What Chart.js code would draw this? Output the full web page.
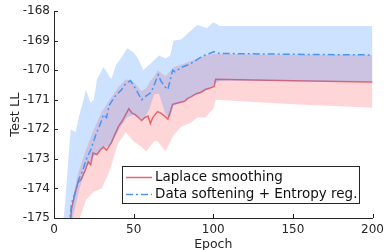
<!DOCTYPE html>
<html>
<head>
<meta charset="utf-8">
<script src="https://cdn.jsdelivr.net/npm/chart.js@4.4.0/dist/chart.umd.min.js"></script>
<style>
html, body { margin: 0; padding: 0; background: #fff; }
</style>
</head>
<body>
<canvas id="c" width="389" height="250"></canvas>
<script>
// values (test log-likelihood vs. epoch)
var laplaceEpochs = [10, 11, 13, 15, 17, 19.5, 21.5, 23, 24.5, 27, 29, 31, 33, 36, 38, 40.5, 43, 45, 47, 49, 51, 53, 55, 57, 59, 60.5, 62, 65, 67, 69.5, 71.5, 74.5, 78, 82, 84, 86, 89, 92, 95, 98, 100.5, 101.5, 150, 200];
var laplaceMean = [-175.3, -174.7, -174.2, -173.8, -173.7, -173.4, -173.1, -173.2, -172.8, -172.85, -172.7, -172.6, -172.7, -172.45, -172.2, -171.9, -171.7, -171.5, -171.3, -171.45, -171.5, -171.6, -171.7, -171.6, -171.55, -171.8, -171.6, -171.4, -171.45, -171.55, -171.65, -171.15, -171.1, -171.05, -170.95, -170.9, -170.8, -170.75, -170.65, -170.6, -170.55, -170.3, -170.35, -170.4];

var laplaceBandEpochs = [10, 13, 15, 20, 25, 30, 35, 40, 45, 50, 55, 58, 60, 63, 65, 70, 75, 80, 85, 90, 95, 100, 101.5, 150, 200];
var laplaceUpper = [-175.0, -174.0, -173.5, -172.7, -172.0, -171.4, -171.0, -170.6, -170.3, -170.4, -170.7, -170.6, -170.4, -170.2, -170.0, -170.2, -169.9, -169.8, -169.7, -169.6, -169.5, -169.45, -169.45, -169.47, -169.48];
var laplaceLower = [-176, -175.6, -175.2, -174.4, -174.1, -174.0, -173.4, -172.5, -172.1, -172.4, -172.6, -172.75, -172.6, -172.4, -172.4, -172.75, -172.2, -171.9, -171.8, -171.6, -171.6, -171.3, -171.0, -171.15, -171.27];

var softEpochs = [9.5, 11, 13, 15.5, 18, 20, 23, 26.5, 29.5, 31, 33, 34.5, 38, 42.5, 45, 48, 51, 55, 57, 61, 65.5, 67, 69.5, 71.5, 74.5, 76, 80, 85, 88, 91, 94, 97, 100.5, 104, 150, 200];
var softMean = [-175.3, -174.5, -174.2, -173.7, -173.4, -173.05, -172.7, -172.15, -171.75, -171.5, -171.6, -171.2, -170.9, -170.65, -170.45, -170.35, -170.6, -171.0, -170.9, -170.75, -170.15, -170.35, -170.55, -170.65, -170.0, -170.05, -169.9, -169.8, -169.7, -169.6, -169.5, -169.45, -169.37, -169.43, -169.46, -169.48];

var softBandEpochs = [5, 7, 9, 10.5, 13.5, 16, 18.5, 20, 23, 25, 27, 31, 33, 36, 39, 42, 46, 50, 53, 56, 60, 63, 66, 70, 73, 75, 80, 86, 90, 96, 100, 104, 150, 200];
var softUpper = [-175.5, -174.5, -173.0, -172.0, -172.1, -171.5, -171.0, -170.67, -171.1, -171.0, -170.3, -169.9, -170.05, -170.3, -169.8, -169.6, -169.25, -169.4, -169.63, -170.0, -169.8, -169.65, -169.5, -169.6, -169.5, -169.0, -168.95, -168.65, -168.47, -168.57, -168.37, -168.5, -168.5, -168.5];
var softLower = [-177, -176.5, -176.0, -175.3, -174.6, -174.0, -173.6, -173.3, -173.1, -172.9, -172.8, -172.6, -172.6, -172.5, -172.2, -171.9, -171.6, -171.5, -171.6, -171.7, -171.3, -170.8, -170.8, -171.5, -171.6, -171.2, -171.1, -170.9, -170.8, -170.65, -170.5, -170.35, -170.35, -170.38];

var seriesNames = ['Laplace smoothing', 'Data softening + Entropy reg.'];
var xTicks = [0, 50, 100, 150, 200];
var yTicks = [-175, -174, -173, -172, -171, -170, -169, -168];

var axisColor = '#262626';
var redLine = 'rgb(236,98,108)';
var blueLine = 'rgb(72,150,244)';
var redFill = 'rgba(255,50,60,0.2)';
var blueFill = 'rgba(40,130,255,0.235)';
var font = 'DejaVu Sans';

function pts(xs, ys) {
    return xs.map(function (x, i) { return { x: x, y: ys[i] }; });
}

function band(xs, ys, order, fill) {
    return {
        data: pts(xs, ys), order: order, borderWidth: 0, pointRadius: 0,
        backgroundColor: fill || 'transparent', fill: fill ? '-1' : false, clip: 0
    };
}

var decor = {
    id: 'decor',
    afterDraw: function (chart) {
        var ctx = chart.ctx, a = chart.chartArea;
        var xs = chart.scales.x, ys = chart.scales.y;
        ctx.save();
        // inward tick marks
        ctx.strokeStyle = axisColor;
        ctx.lineWidth = 1;
        ctx.beginPath();
        yTicks.forEach(function (v) {
            var p = Math.round(ys.getPixelForValue(v)) + 0.5;
            ctx.moveTo(a.left, p); ctx.lineTo(a.left + 4, p);
        });
        xTicks.forEach(function (v) {
            var p = Math.round(xs.getPixelForValue(v)) + 0.5;
            ctx.moveTo(p, a.bottom); ctx.lineTo(p, a.bottom - 4);
        });
        ctx.stroke();

        // boxed legend inside the axes
        var bx = 122.5, by = 166.5, bw = 237, bh = 37;
        ctx.fillStyle = '#fff';
        ctx.fillRect(bx, by, bw, bh);
        ctx.strokeRect(bx, by, bw, bh);
        var items = chart.data.datasets.filter(function (d) { return d.label; });
        items.forEach(function (d, i) {
            var y = 177.5 + i * 17;
            ctx.strokeStyle = d.borderColor;
            ctx.lineWidth = d.borderWidth;
            ctx.setLineDash(d.borderDash || []);
            ctx.beginPath();
            ctx.moveTo(126, y); ctx.lineTo(152, y);
            ctx.stroke();
            ctx.setLineDash([]);
            ctx.fillStyle = '#111';
            ctx.font = '13.5px "' + font + '"';
            ctx.textBaseline = 'middle';
            ctx.fillText(d.label, 155, y);
        });
        ctx.restore();
    }
};

new Chart(document.getElementById('c'), {
    type: 'line',
    data: {
        datasets: [
            band(laplaceBandEpochs, laplaceLower, 3),
            band(laplaceBandEpochs, laplaceUpper, 3, redFill),
            band(softBandEpochs, softLower, 1),
            band(softBandEpochs, softUpper, 1, blueFill),
            {
                label: seriesNames[0], data: pts(laplaceEpochs, laplaceMean), order: 2,
                borderColor: redLine, borderWidth: 1.5, pointRadius: 0, fill: false, clip: 0
            },
            {
                label: seriesNames[1], data: pts(softEpochs, softMean), order: 0,
                borderColor: blueLine, borderWidth: 1.5, borderDash: [7, 3, 2, 3],
                pointRadius: 0, fill: false, clip: 0
            }
        ]
    },
    options: {
        responsive: false,
        animation: false,
        events: [],
        devicePixelRatio: 1,
        layout: { padding: { top: 8, right: 11, left: 0, bottom: 0 } },
        plugins: { legend: { display: false }, tooltip: { enabled: false } },
        scales: {
            x: {
                type: 'linear', min: 0, max: 200, z: 1,
                afterFit: function (s) { s.height = 32; },
                afterBuildTicks: function (s) { s.ticks = xTicks.map(function (v) { return { value: v }; }); },
                grid: { display: false, drawTicks: false },
                border: { display: true, color: axisColor, width: 1 },
                ticks: { padding: 5, color: axisColor, font: { family: font, size: 12 }, maxRotation: 0 },
                title: { display: true, text: 'Epoch', color: axisColor, font: { family: font, size: 12.5 }, padding: { top: 0, bottom: -2 } }
            },
            y: {
                type: 'linear', min: -175, max: -168, z: 1,
                afterFit: function (s) { s.width = 54; },
                afterBuildTicks: function (s) { s.ticks = yTicks.map(function (v) { return { value: v }; }); },
                grid: { display: false, drawTicks: false },
                border: { display: true, color: axisColor, width: 1 },
                ticks: { padding: 4, color: axisColor, font: { family: font, size: 12 } },
                title: { display: true, text: 'Test LL', color: axisColor, font: { family: font, size: 13 }, padding: { top: 8, bottom: 0 } }
            }
        }
    },
    plugins: [decor]
});
</script>
</body>
</html>
